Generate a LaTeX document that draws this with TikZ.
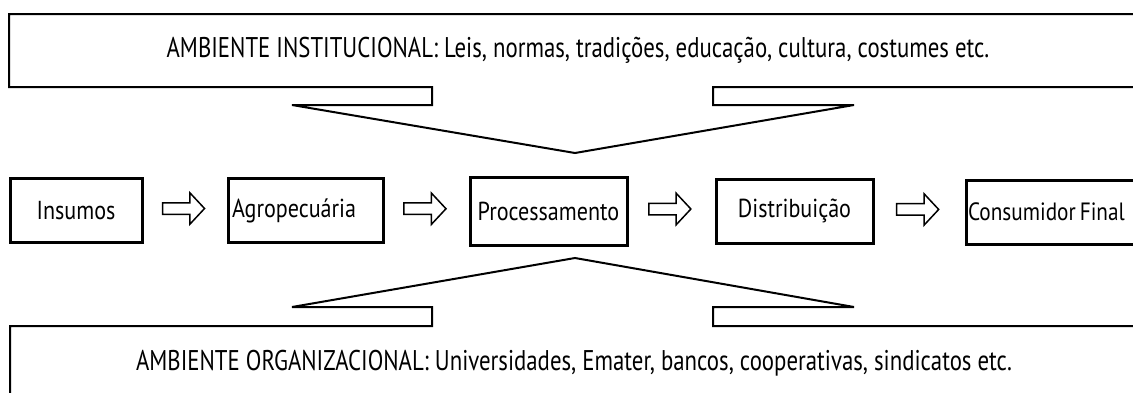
\documentclass[tikz,border=0pt]{standalone}
\usepackage{fontspec}
\newfontfamily\condfont{PT Sans}[FakeStretch=0.8]
\newfontfamily\chainfont{PT Sans}[FakeStretch=0.85]
\usetikzlibrary{shapes.arrows,calc}
\tikzset{
  envline/.style={line width=2pt, line join=miter},
  chainbox/.style={draw, line width=3pt, inner sep=0pt, minimum height=64pt,
    font=\chainfont\fontsize{26}{30}\selectfont},
  flowarrow/.style={draw, single arrow, line width=1.5pt, minimum height=42pt,
    inner xsep=0pt, inner ysep=5pt, single arrow head extend=10pt,
    single arrow tip angle=94},
  envtext/.style={font=\condfont\fontsize{28.5}{32}\selectfont, inner sep=0pt}
}
\begin{document}
\begin{tikzpicture}[x=1pt,y=-1pt]
\path[use as bounding box, clip] (0,0) rectangle (1133,392);
% institutional environment
\draw[envline] (1150,14) -- (9,14) -- (9,87) -- (432,87) -- (432,105) -- (292,105)
  -- (575,153) -- (854,105) -- (713,105) -- (713,87) -- (1150,87);
\node[envtext] (inst) at (578,50) {AMBIENTE INSTITUCIONAL: Leis, normas, tradições, educação, cultura, costumes etc.};
% organizational environment
\draw[envline] (1150,326) -- (713,326) -- (713,307) -- (854,307) -- (575,258)
  -- (292,307) -- (432,307) -- (432,326) -- (10,326) -- (10,400);
\node[envtext] (org) at (574,363) {AMBIENTE ORGANIZACIONAL: Universidades, Emater, bancos, cooperativas, sindicatos etc.};
% chain
\node[chainbox, minimum width=132pt] (ins) at (76,210.5) {Insumos};
\node[chainbox, minimum width=155pt, text width=147pt, align=left] (agr) at (305.5,210.5) {Agropecuária};
\node[chainbox, minimum width=157pt, minimum height=68pt] (pro) at (548.5,211) {Processamento};
\node[chainbox, minimum width=157pt] (dis) at (794.5,211) {Distribuição};
\node[chainbox, minimum width=184pt, text width=180pt, align=left,
  font=\chainfont\fontsize{25}{30}\selectfont] (con) at (1058,212) {\spaceskip=4pt\relax Consumidor Final};
\node[flowarrow] (a1) at ($(ins.east)!0.45!(agr.west)+(0,-2)$) {};
\node[flowarrow] (a2) at ($(agr.east)!0.45!(pro.west)+(0,-2)$) {};
\node[flowarrow] (a3) at ($(pro.east)!0.45!(dis.west)+(0,-2)$) {};
\node[flowarrow] (a4) at ($(dis.east)!0.45!(con.west)+(0,-2)$) {};
\end{tikzpicture}
\end{document}
